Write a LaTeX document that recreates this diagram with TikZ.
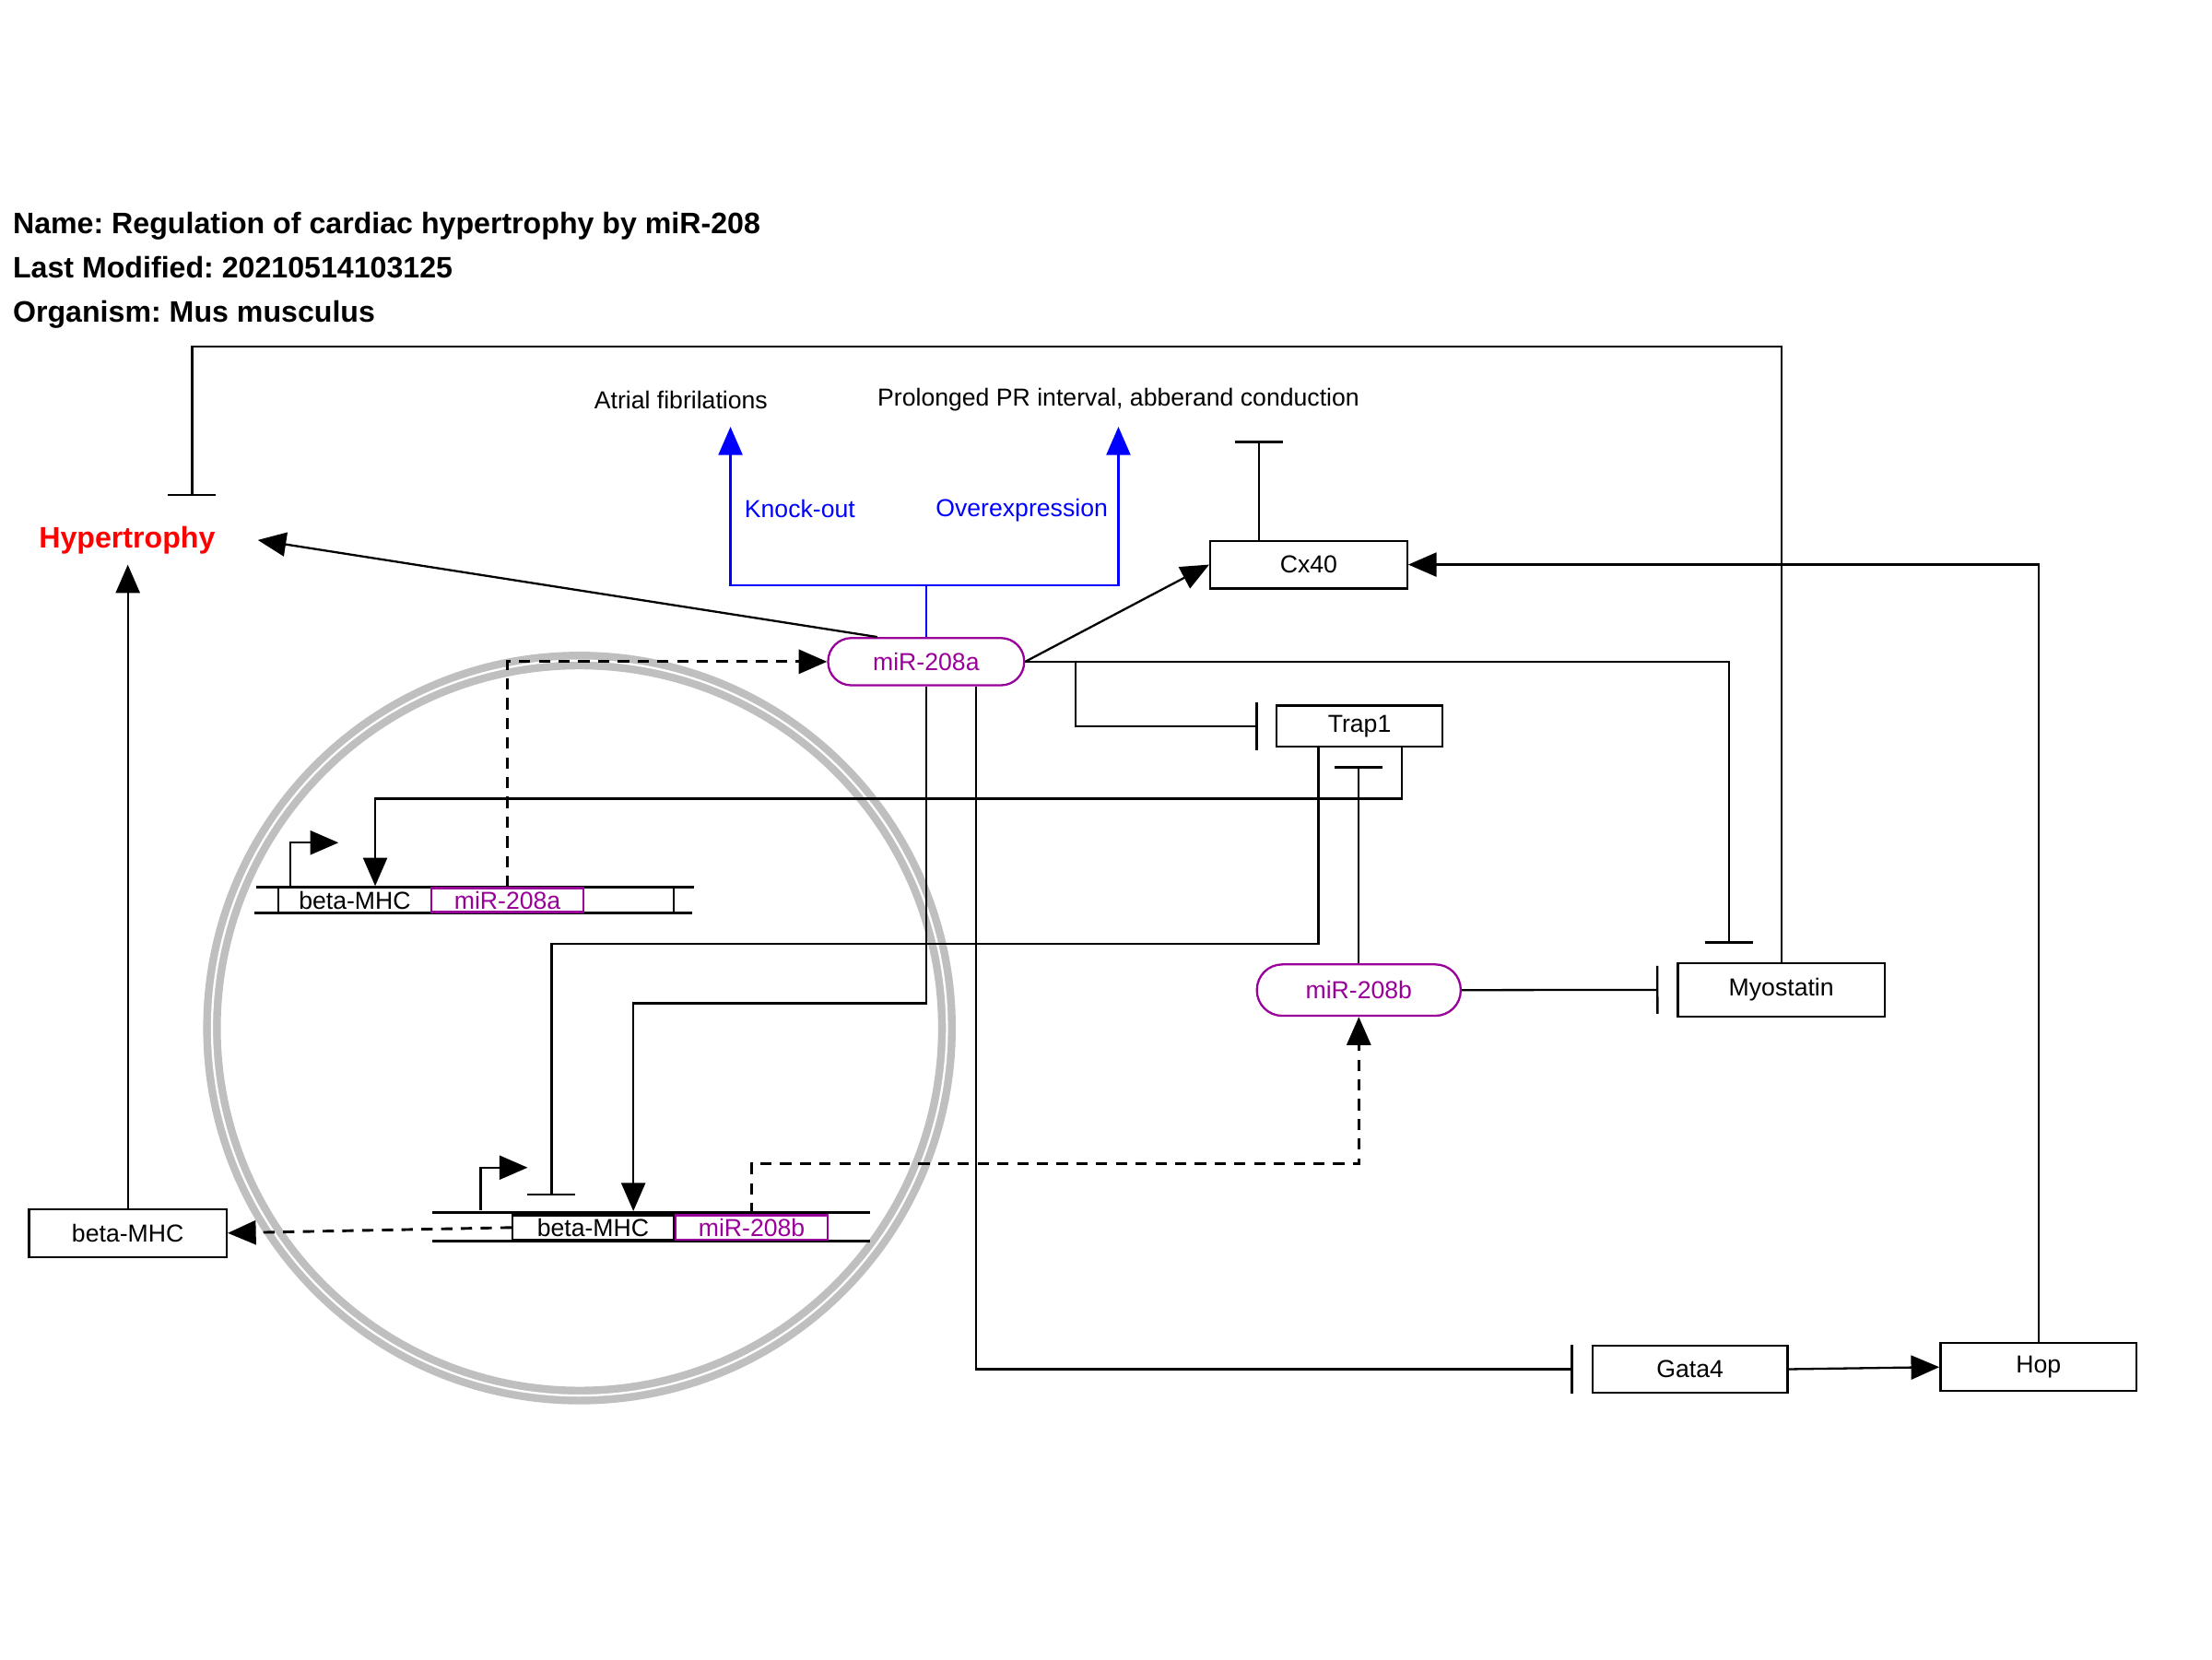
\documentclass[tikz,border=0pt]{standalone}
\usepackage{fontspec}
\setmainfont{Liberation Sans}
\usetikzlibrary{arrows.meta}
\definecolor{mirpurple}{RGB}{153,0,153}
\newcommand\lblsize{\fontsize{17.4pt}{20pt}\selectfont}
\newcommand\ttlsize{\fontsize{21pt}{25pt}\selectfont}
\frenchspacing

\begin{document}
\begin{tikzpicture}[x=1pt,y=-1pt]
   \tikzstyle{every node}=[font=\lblsize, inner sep=0pt]
   \tikzstyle{box}=[draw, line width=1.6pt, minimum width=139pt, minimum height=33.5pt]
   \tikzstyle{mirna}=[draw=mirpurple, text=mirpurple, line width=1.5pt, rounded corners=16.5pt, minimum width=139pt, minimum height=33.5pt]
   \tikzstyle{gbox}=[draw, line width=1.5pt, minimum height=17.4pt]
   \tikzstyle{gmir}=[gbox, draw=mirpurple, text=mirpurple]
   \tikzstyle{act}=[line width=1.5pt, -{Triangle[length=20pt,width=17pt]}]
   \tikzstyle{actd}=[act, line width=1.9pt, dash pattern=on 8pt off 6pt]
   \tikzstyle{inh}=[line width=1.5pt, -{Bar[width=34pt,line width=1.5pt]}, shorten >=13pt]
   \tikzstyle{blu}=[act, draw=blue]
   \tikzstyle{ring}=[draw=gray!50, line width=5.5pt, double=white, double distance=1.5pt]
   \tikzstyle{gline}=[line width=1.8pt]
   \tikzstyle{prom}=[line width=1.5pt, -{Triangle[length=20pt,width=17pt]}]
   \tikzstyle{ttl}=[anchor=base west, font=\ttlsize\bfseries]

\useasboundingbox (0,0) rectangle (1568,1176);

% nucleus
\draw[ring] (410.75,728.7) circle[radius=260.5];

\node[ttl] (name) at (9,165.7) {Name: Regulation of cardiac hypertrophy by miR-208};
\node[ttl] (modified) at (9,197) {Last Modified: 20210514103125};
\node[ttl] (organism) at (9,228.2) {Organism: Mus musculus};

\node[ttl, text=red] (hyper) at (27.5,388.2) {Hypertrophy};
\node[anchor=base] (atrial) at (482.7,290) {Atrial fibrilations};
\node[anchor=base] (prpr) at (792.8,288) {Prolonged PR interval, abberand conduction};
\node[anchor=base, text=blue] (ko) at (567,366.8) {Knock-out};
\node[anchor=base, text=blue] (ovx) at (724.3,366.5) {Overexpression};

\node[mirna] (mir208a) at (656.5,469) {miR-208a};
\node[mirna, minimum width=144.5pt, minimum height=36.4pt, rounded corners=18pt] (mir208b) at (963.2,701.8) {miR-208b};
\node[box, minimum width=139.5pt, minimum height=33.7pt] (cx40) at (927.7,400.2) {Cx40};
\node[box, minimum width=117.5pt, minimum height=29.3pt] (trap1) at (963.7,514.7) {Trap1};
\node[box, minimum width=146.5pt, minimum height=38pt] (myostatin) at (1262.7,701.6) {Myostatin};
\node[box, minimum width=138.3pt, minimum height=33.3pt] (gata4) at (1198,970.5) {Gata4};
\node[box, minimum height=34pt] (hop) at (1445,969) {Hop};
\node[box, minimum width=140pt, minimum height=34pt] (betamhc) at (90.6,874) {beta-MHC};

% genes
\draw[gline] (181.4,628.7) -- (491.7,628.7);
\draw[gline] (180,647.2) -- (490.4,647.2);
\node[gbox, minimum width=280pt, minimum height=18.5pt] (g1) at (337.4,638) {};
\node (g1lbl) at (251.5,638) {beta-MHC};
\node[gmir, minimum width=108pt, minimum height=17pt] (g1mir) at (359.7,638) {miR-208a};
\draw[prom] ([xshift=9.3pt]g1.north west) |- ++(34,-30.7);

\draw[gline] (306.4,859.2) -- (616.7,859.2);
\draw[gline] (306.4,879.9) -- (616.7,879.9);
\node[gbox, minimum width=114pt] (g2) at (420.4,870.1) {beta-MHC};
\node[gmir, minimum width=107.7pt] (g2mir) at (532.85,870.1) {miR-208b};
\draw[prom] (340.7,857.7) |- (374,827.6);

% connectors
\draw[blu] (mir208a.north) -- ++(0,-36.8) -| ([xshift=35.1pt,yshift=-12.5pt]atrial.base);
\draw[blu] (mir208a.north) -- ++(0,-36.8) -| ([yshift=-14.5pt]prpr.base);
\draw[act] ([xshift=-34.7pt]mir208a.north) -- ([xshift=30pt]hyper.east);
\draw[act, shorten >=7.5pt] (betamhc.north) -- (betamhc.north |- hyper.south);
\draw[inh, shorten >=21pt] (myostatin.north) -- ++(0,-436.1) -| ([xshift=46pt]hyper.north);
\draw[act] (mir208a.east) -- (cx40.west);
\draw[inh, shorten >=0pt] ([xshift=-35.2pt]cx40.north) -- ++(0,-70);
\draw[act] (hop.north) |- (cx40.east);
\draw[inh] (mir208a.east) -| ([xshift=-37.2pt]myostatin.north);
\draw[inh, shorten >=12.5pt] (mir208a.east) -- ++(35.5,0) |- (trap1.west);
\draw[act] ([xshift=29.8pt]trap1.south) -- ++(0,36) -| ([xshift=69.3pt]g1.north west);
\draw[inh] ([xshift=-29.2pt]trap1.south) -- ++(0,138.9) -| ([xshift=28.3pt]g2.north west);
\draw[act, shorten >=2.2pt] (mir208a.south) -- ++(0,224.7) -| ([xshift=86.3pt]g2.north west);
\draw[inh] ([xshift=35.5pt]mir208a.south) |- (gata4.west);
\draw[act] (gata4.east) -- (hop.west);
\draw[inh] (mir208b.north) -- (mir208b.north |- trap1.south);
\draw[inh] (mir208b.east) -- (myostatin.west);
\draw[actd] (g2mir.north) -- ++(0,-35.9) -| (mir208b.south);
\draw[actd] (g1mir.north) |- (mir208a.west);
\draw[actd] (g2.west) -- (betamhc.east);

\end{tikzpicture}
\end{document}
